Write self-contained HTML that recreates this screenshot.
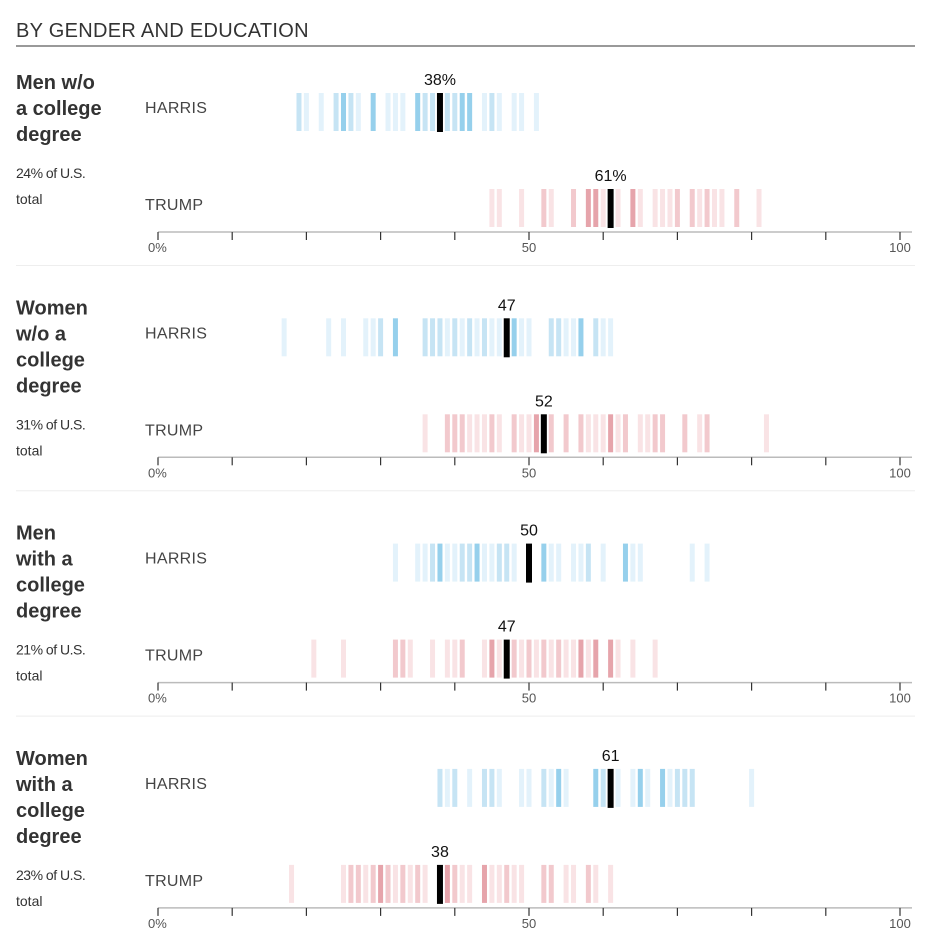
<!DOCTYPE html>
<html><head><meta charset="utf-8"><style>
body{margin:0;background:#fff;width:936px;height:952px;overflow:hidden;font-family:"Liberation Sans",sans-serif}
svg{position:absolute;left:0;top:0}
</style></head><body>
<svg id="chart" width="936" height="952"></svg>
<script>
const panelTitles=[["Men w/o","a college","degree"],["Women","w/o a","college","degree"],["Men","with a","college","degree"],["Women","with a","college","degree"]];
const panelShares=["24%","31%","21%","23%"];
const harrisAvg=[38,47,50,61];
const trumpAvg=[61,52,47,38];
const avgLabels=[["38%","61%"],["47","52"],["50","47"],["61","38"]];
const harrisVals=[
[19,20,22,24,25,26,27,29,31,32,33,35,36,37,39,40,41,42,44,45,46,48,49,51],
[17,23,25,28,29,30,32,36,37,38,39,40,41,42,43,44,45,46,48,49,50,53,54,55,56,57,59,60,61],
[32,35,36,37,38,39,40,41,42,43,44,45,46,47,48,52,53,54,56,57,58,60,63,64,65,72,74],
[38,39,40,42,44,45,46,49,50,52,53,54,55,59,60,62,64,65,66,68,69,70,71,72,80]];
const harrisLvl=[
[2,1,1,2,3,2,1,3,1,1,1,3,2,2,2,2,3,3,1,2,1,1,1,1],
[1,1,1,1,1,2,3,2,2,2,1,2,1,2,1,2,1,1,3,1,1,2,2,1,1,3,2,1,1],
[1,1,1,2,3,1,1,2,2,3,1,1,2,2,1,3,1,1,1,1,2,1,3,1,1,1,1],
[2,1,2,1,2,2,1,1,1,2,1,3,1,3,2,1,1,3,1,3,1,2,2,2,1]];
const trumpVals=[
[45,46,49,52,53,56,58,59,60,62,64,65,67,68,69,70,72,73,74,75,76,78,81],
[36,39,40,41,42,43,44,45,46,48,49,50,51,53,55,57,58,59,60,61,62,63,65,66,67,68,71,73,74,82],
[21,25,32,33,34,37,39,40,41,44,45,46,48,49,50,51,52,53,54,55,56,57,58,59,61,62,64,67],
[18,25,26,27,28,29,30,31,32,33,34,35,36,39,40,41,42,44,45,46,47,48,49,52,53,55,56,58,59,61]];
const trumpLvl=[
[1,1,1,2,1,2,3,3,1,1,3,1,1,1,1,2,2,1,2,1,1,2,1],
[1,2,2,2,1,1,1,2,1,2,1,1,3,2,2,2,1,1,1,3,1,2,1,1,2,2,2,1,2,1],
[1,1,2,2,1,1,1,1,2,1,3,1,2,1,2,1,2,1,2,1,1,3,1,3,3,1,1,1],
[1,1,2,2,1,2,3,2,1,2,1,2,1,3,2,1,1,3,1,1,2,1,1,2,2,1,1,2,1,1]];
const tickVals=[0,10,20,30,40,50,60,70,80,90,100];
const tickLabels={0:"0%",50:"50",100:"100"};

const NS="http://www.w3.org/2000/svg";
const svg=document.getElementById('chart');
function xs(v){return 158+v*7.42;}
function el(t,a,txt){const e=document.createElementNS(NS,t);for(const k in a)e.setAttribute(k,a[k]);if(txt!=null)e.textContent=txt;svg.appendChild(e);return e;}
const blue=["#e3f2fb","#c6e4f4","#96d0ec"],red=["#f9e3e5","#f2c9cd","#e6a4ab"];
let t=el('text',{x:16,y:37,'font-size':20,fill:'#333','letter-spacing':'0.3'},'BY GENDER AND EDUCATION');


let hl=el('line',{x1:16,x2:915,y1:46,y2:46,stroke:'#333','stroke-width':1});


for(let p=0;p<4;p++){
  const o=p*225.3;
  const nl=panelTitles[p].length;
  panelTitles[p].forEach((ln,i)=>{
    const e=el('text',{x:16,y:89+o+i*26,'font-size':20,'font-weight':'bold',fill:'#333'},ln);
    
    
  });
  const sy=89+o+(nl-1)*26+37;
  let s1=el('text',{x:16,y:sy,'font-size':14,fill:'#333','letter-spacing':'-0.5'},panelShares[p]+" of U.S.");
  
  
  let s2=el('text',{x:16,y:sy+26,'font-size':14,fill:'#333'},"total");
  
  
  [['HARRIS',113,harrisVals[p],harrisLvl[p],blue,harrisAvg[p],avgLabels[p][0],93],
   ['TRUMP',210,trumpVals[p],trumpLvl[p],red,trumpAvg[p],avgLabels[p][1],189]].forEach(r=>{
    const lab=el('text',{x:145,y:r[1]+o,'font-size':16,fill:'#444','letter-spacing':'0.3'},r[0]);
    
    
    const y0=r[7]+o;
    r[2].forEach((v,i)=>{
      const b=el('rect',{x:xs(v)-2.5,y:y0,width:5,height:38,fill:r[4][r[3][i]-1]});
      
      
    });
    const a=el('rect',{x:xs(r[5])-3,y:y0,width:6,height:39,fill:'#000'});
    
    
    const at=el('text',{x:xs(r[5]),y:y0-8,'font-size':16,fill:'#111','text-anchor':'middle'},r[6]);
    
    
  });
  const ay=232+o;
  let ax=el('line',{x1:158,x2:912,y1:ay,y2:ay,stroke:'#bbb','stroke-width':1.5});
  
  
  tickVals.forEach(v=>{
    const tk=el('line',{x1:xs(v),x2:xs(v),y1:ay,y2:ay+8,stroke:'#333','stroke-width':1.2});
    
    
    if(tickLabels[v]!==undefined){
      const tl=el('text',{x:v===0?148:xs(v),y:ay+20,'font-size':13,fill:'#555','text-anchor':v===0?'start':'middle'},tickLabels[v]);
      
      
    }
  });
  if(p<3){
    const sep=el('line',{x1:16,x2:915,y1:265.5+o,y2:265.5+o,stroke:'#eee','stroke-width':1});
    
    
  }
}
</script>
</body></html>
